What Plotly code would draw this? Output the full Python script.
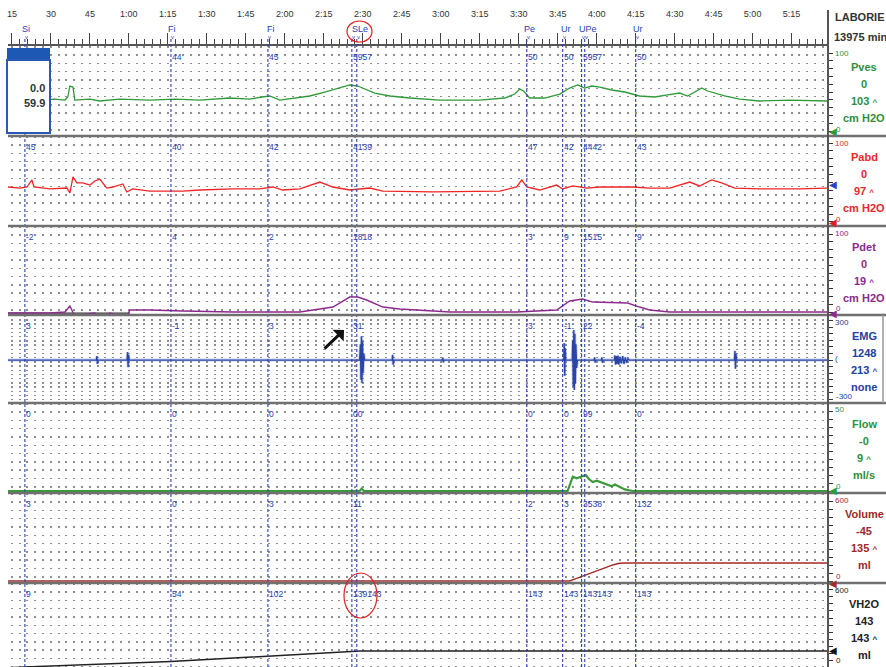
import plotly.graph_objects as go

# ---------------- data ----------------
time_tick_vals = [15, 30, 45, 60, 75, 90, 105, 120, 135, 150, 165, 180, 195, 210, 225, 240, 255, 270, 285, 300, 315]
time_tick_text = ["15", "30", "45", "1:00", "1:15", "1:30", "1:45", "2:00", "2:15", "2:30", "2:45",
                  "3:00", "3:15", "3:30", "3:45", "4:00", "4:15", "4:30", "4:45", "5:00", "5:15"]

event_names = ["Si", "Fi", "Fi", "SLe", "Pe", "Ur", "UPe", "Ur"]
event_name_t = [20.4, 76.5, 114.6, 148.8, 214.2, 228.1, 236.5, 255.8]
event_line_t = [20.0, 76.2, 113.5, 145.8, 147.7, 213.1, 226.9, 234.2, 235.4, 255.0]

pves_marks = ["", "44", "45", "59", "57", "50", "50", "59", "57", "50"]
pabd_marks = ["45", "40", "42", "41", "39", "47", "42", "44", "42", "43"]
pdet_marks = ["-2", "4", "2", "18", "18", "3", "9", "15", "15", "9"]
emg_marks = ["3", "-1", "3", "3", "1", "3", "-1", "2", "2", "-4"]
flow_marks = ["0", "0", "0", "0", "0", "0", "0", "9", "9", "0"]
vol_marks = ["3", "0", "3", "1", "1", "2", "3", "35", "38", "132"]
vh2o_marks = ["9", "54", "102", "139", "143", "143", "143", "143", "143", "143"]

pves_t = [13.5, 21.9, 31.5, 35.4, 36.5, 37.3, 38.5, 39.2, 45.0, 48.8, 56.5, 68.1, 77.7, 87.3, 98.8,
          106.5, 111.2, 114.2, 118.1, 123.8, 129.6, 135.4, 141.2, 145.0, 148.1, 150.8, 154.6, 160.4,
          168.1, 179.6, 195.0, 204.6, 208.5, 210.4, 211.9, 214.2, 220.0, 225.8, 229.6, 232.7, 235.4,
          238.1, 241.2, 245.8, 250.8, 256.5, 262.3, 267.3, 271.9, 275.0, 277.7, 280.4, 282.7, 285.4,
          289.2, 295.0, 302.7, 314.2, 328.8]
pves_v = [39.7, 38.5, 41.0, 39.7, 43.6, 57.7, 56.4, 39.7, 41.0, 38.5, 41.0, 39.7, 41.0, 39.7, 42.3,
          41.0, 43.6, 44.9, 39.7, 42.3, 44.9, 50.0, 55.1, 59.0, 57.7, 53.8, 48.7, 44.9,
          42.3, 39.7, 39.7, 42.3, 47.4, 53.8, 51.3, 42.3, 42.3, 47.4, 55.1, 59.0, 55.1,
          57.7, 56.4, 52.6, 50.0, 44.9, 43.6, 46.2, 48.7, 44.9, 50.0, 55.1, 51.3, 48.7,
          44.9, 41.0, 38.5, 39.7, 38.5]

pabd_t = [13.5, 18.1, 20.8, 22.7, 23.5, 29.6, 36.2, 37.3, 38.5, 40.0, 42.3, 45.0, 46.9, 48.8, 51.5,
          53.8, 57.7, 59.2, 61.5, 68.1, 74.6, 80.8, 87.3, 100.0, 110.4, 115.4, 119.2, 125.8, 133.5,
          138.5, 145.0, 152.7, 157.7, 176.9, 202.7, 209.2, 211.2, 213.1, 218.1, 224.6, 226.9, 230.8,
          236.2, 241.2, 253.8, 260.4, 268.1, 275.8, 279.6, 284.2, 288.1, 293.1, 302.7, 318.1, 328.8]
pabd_v = [44.3, 43.0, 44.3, 53.2, 44.3, 41.8, 43.0, 36.7, 57.0, 49.4, 49.4, 46.8, 51.9, 54.4, 43.0,
          44.3, 48.1, 38.0, 41.8, 39.2, 39.2, 39.2, 40.5, 41.8, 41.8, 44.3, 40.5, 41.8, 50.6,
          44.3, 40.5, 43.0, 39.2, 38.0, 39.2, 44.3, 53.2, 44.3, 40.5, 46.8, 41.8, 45.6,
          43.0, 44.3, 44.3, 43.0, 43.0, 50.6, 45.6, 53.2, 49.4, 43.0, 41.8, 41.8, 43.0]

pdet_t = [13.5, 29.6, 35.4, 37.3, 38.8, 40.0, 43.8, 46.9, 48.8, 50.8, 52.7, 56.5, 59.2, 60.4, 68.1,
          80.8, 100.0, 125.8, 138.5, 145.0, 148.1, 151.5, 157.7, 164.2, 183.5, 209.2, 224.6, 229.6,
          234.6, 238.5, 247.7, 251.9, 256.5, 260.4, 268.1, 328.8]
pdet_v = [-1.3, -1.3, 0.0, 7.7, -2.6, -6.4, -2.6, -1.3, -9.0, -5.0, -1.3, -5.0, -6.4, 2.6, 2.6,
          1.3, 0.0, 0.0, 6.4, 19.2, 19.2, 15.4, 6.4, 3.8, 0.0, 0.0, 2.6, 14.1,
          16.7, 12.8, 11.5, 11.5, 6.4, 2.6, 0.0, 0.0]
pdet_base_t = [13.5, 60.4]
pdet_base_v = [-1.3, -1.3]

emg_t = [13.5,
         47.5, 47.7, 47.9, 48.1,
         59.3, 59.5, 59.7, 59.9, 60.1,
         148.8, 149.1, 149.3, 149.5, 149.7, 149.9, 150.1, 150.4, 150.7,
         161.3, 161.5, 161.7, 161.9,
         180.6, 180.8, 181.0, 181.2,
         227.3, 227.5, 227.7, 227.9, 228.1,
         230.6, 230.8, 231.0, 231.2, 231.4, 231.6, 231.8, 232.0, 232.3, 232.6,
         239.0, 239.2, 239.4, 239.6,
         241.8, 242.0, 242.2, 242.4,
         246.8, 247.0, 247.3, 247.6, 247.9, 248.2, 248.5, 249.0, 249.5, 250.0, 250.5, 251.0, 251.5, 252.0, 252.5,
         293.0, 293.2, 293.4, 293.6, 293.8,
         328.8]
emg_v = [0,
         0, 30, -30, 0,
         0, 60, -55, 40, 0,
         0, 120, -150, 180, -175, 140, -100, 50, 0,
         0, 40, -35, 0,
         0, 18, -18, 0,
         0, 130, -120, 90, 0,
         0, 150, -200, 228, -228, 200, -180, 120, -60, 0,
         0, 20, -20, 0,
         0, 20, -20, 0,
         0, 35, -35, 30, -30, 35, -35, 25, -25, 30, -30, 20, -20, 10, 0,
         0, 70, -65, 50, 0,
         0]

flow_t = [13.5, 148.8, 149.6, 150.4, 228.8, 229.6, 230.8, 232.3, 234.2, 235.8, 237.0, 238.5, 240.0,
          242.3, 244.0, 245.8, 247.0, 248.5, 250.8, 253.8, 328.8]
flow_v = [0, 0, 1.5, 0, 0, 4, 9, 8, 9, 10, 7.5, 5.6, 6.5, 5, 4, 3, 4, 3, 1, 0, 0]

vol_t = [13.5, 229.6, 232.0, 235.0, 238.0, 241.0, 244.0, 246.5, 248.8, 252.0, 328.8]
vol_v = [0, 0, 18, 40, 63, 85, 108, 123, 133, 135, 135]

vh2o_t = [13.5, 20.0, 76.2, 113.5, 147.7, 149.0, 328.8]
vh2o_v = [3, 9, 54, 102, 140, 143, 143]

# ---------------- geometry helpers ----------------
W, H = 886, 667
ML, MR, MT, MB = 8, 58, 46, 0
PW = W - ML - MR
PH = H - MT - MB
T0, T1 = 13.5, 329.0


def fx(px):
    return (px - ML) / PW


def fy(py):
    return (H - MB - py) / PH


FN = "Liberation Sans Narrow, Arial Narrow, Liberation Sans, Arial, sans-serif"
EV_BLUE = "#2a40b0"
GRIDC = "#8e8e8e"

bounds = [46, 136, 226, 315, 403, 493, 583, 667]
panels = [
    dict(rng=[-6.4, 109.0], dtick=10, dash="1.5px,6.8px"),
    dict(rng=[-5.1, 108.9], dtick=10, dash="1.5px,6.8px"),
    dict(rng=[-3.8, 110.3], dtick=10, dash="1.5px,6.8px"),
    dict(rng=[-326, 342], dtick=50, dash="1.4px,2.8px"),
    dict(rng=[-1.25, 55], dtick=5, dash="1.5px,6.8px"),
    dict(rng=[-15, 662], dtick=60, dash="1.5px,6.8px"),
    dict(rng=[8.4, 714], dtick=60, dash="1.5px,6.8px"),
]

fig = go.Figure()


def add_line(t, v, i, color, width):
    fig.add_trace(go.Scatter(x=t, y=v, mode="lines", xaxis="x" if i == 1 else f"x{i}",
                             yaxis="y" if i == 1 else f"y{i}", line=dict(color=color, width=width),
                             hoverinfo="skip", showlegend=False))


add_line(pves_t, pves_v, 1, "#2f9a3a", 1.3)
add_line(pabd_t, pabd_v, 2, "#f02424", 1.3)
add_line(pdet_base_t, pdet_base_v, 3, "#333333", 1.3)
add_line(pdet_t, pdet_v, 3, "#8e2a8e", 1.4)
add_line(emg_t, emg_v, 4, "rgba(90,115,205,0.35)", 3)
add_line(emg_t, emg_v, 4, "#2a44a8", 1.3)
add_line(flow_t, flow_v, 5, "#3a9a3a", 2.2)
add_line(vol_t, vol_v, 6, "#a52a2a", 1.5)
add_line(vh2o_t, vh2o_v, 7, "#222222", 1.5)

layout = dict(width=W, height=H, margin=dict(l=ML, r=MR, t=MT, b=MB),
              paper_bgcolor="white", plot_bgcolor="white", showlegend=False)

for i, p in enumerate(panels, start=1):
    xa = dict(domain=[0, 1], range=[T0, T1], anchor="y" if i == 1 else f"y{i}",
              tickmode="array", tickvals=time_tick_vals, ticktext=time_tick_text,
              showgrid=True, gridcolor=GRIDC, griddash=p["dash"], gridwidth=1.5,
              zeroline=False, showline=False, showticklabels=False, ticks="",
              minor=dict(dtick=3, tick0=15, showgrid=True, gridcolor=GRIDC,
                         griddash=p["dash"], gridwidth=1.5))
    if i == 1:
        xa.update(side="top", showticklabels=True, ticks="outside", ticklen=11, tickwidth=1.2,
                  tickcolor="#444", showline=True, linecolor="#555", linewidth=2,
                  tickfont=dict(family=FN, size=9, color="#333"), ticklabelstandoff=12)
        xa["minor"].update(ticks="outside", ticklen=5, tickwidth=1, tickcolor="#444")
    ya = dict(domain=[fy(bounds[i]), fy(bounds[i - 1])], range=p["rng"],
              anchor="x" if i == 1 else f"x{i}", side="right", showgrid=False, zeroline=False,
              showticklabels=False, ticks="outside", ticklen=4, tickcolor="#333",
              tick0=0, dtick=p["dtick"], showline=False)
    layout["xaxis" if i == 1 else f"xaxis{i}"] = xa
    layout["yaxis" if i == 1 else f"yaxis{i}"] = ya

fig.update_layout(**layout)

shapes = []
# event dashed lines
for t in event_line_t:
    shapes.append(dict(type="line", xref="x", yref="paper", x0=t, x1=t, y0=0, y1=fy(38),
                       line=dict(color=EV_BLUE, width=1.1, dash="3px,2px")))
# separators
for b in bounds[1:-1]:
    shapes.append(dict(type="line", xref="paper", yref="paper", x0=0, x1=fx(W), y0=fy(b), y1=fy(b),
                       line=dict(color="#707070", width=2.5)))
# right axis line
shapes.append(dict(type="line", xref="paper", yref="paper", x0=fx(828), x1=fx(828), y0=0, y1=fy(10),
                   line=dict(color="#555", width=2)))
# EMG label box right border
shapes.append(dict(type="line", xref="paper", yref="paper", x0=fx(883), x1=fx(883), y0=fy(403), y1=fy(315),
                   line=dict(color="#999", width=1.5)))
# overlay box at top-left
shapes.append(dict(type="rect", xref="paper", yref="paper", x0=fx(7), x1=fx(50), y0=fy(60), y1=fy(48),
                   fillcolor="#1d58b5", line=dict(width=0), layer="above"))
shapes.append(dict(type="rect", xref="paper", yref="paper", x0=fx(7), x1=fx(50), y0=fy(133), y1=fy(60),
                   fillcolor="white", line=dict(color="#2a5ab8", width=2), layer="above"))
# red circles
shapes.append(dict(type="circle", xref="paper", yref="paper", x0=fx(347), x1=fx(372), y0=fy(42), y1=fy(21),
                   line=dict(color="#e02020", width=1.2)))
shapes.append(dict(type="circle", xref="paper", yref="paper", x0=fx(344), x1=fx(377), y0=fy(618), y1=fy(573),
                   line=dict(color="#e02020", width=1.2)))
fig.update_layout(shapes=shapes)

ann = []


def txt(px, py, s, color, size, bold=False, anchor="center", family=FN):
    ann.append(dict(xref="paper", yref="paper", x=fx(px), y=fy(py), text=f"<b>{s}</b>" if bold else s,
                    showarrow=False, xanchor=anchor, yanchor="middle",
                    font=dict(family=family, size=size, color=color)))


# header right
txt(860, 17, "LABORIE", "#333", 11, True)
txt(860, 37, "13975 min", "#333", 11, True)

# panel names / values
caret = "<span style='font-size:8px'>^</span>"
right_info = [
    (["Pves", "0", "103 " + caret, "cm H2O"], "#2e9040"),
    (["Pabd", "0", "97 " + caret, "cm H2O"], "#e8282a"),
    (["Pdet", "0", "19 " + caret, "cm H2O"], "#8b2a8b"),
    (["EMG", "1248", "213 " + caret, "none"], "#2540a0"),
    (["Flow", "-0", "9 " + caret, "ml/s"], "#2e9040"),
    (["Volume", "-45", "135 " + caret, "ml"], "#a02828"),
    (["VH2O", "143", "143 " + caret, "ml"], "#222"),
]
for k, (lines, col) in enumerate(right_info):
    top = bounds[k]
    for j, s in enumerate(lines):
        txt(864, top + 21 + 17 * j, s, col, 11, True)

# scale labels
scale_info = [
    ("100", "0", "#2e9040"), ("100", "0", "#e8282a"), ("100", "0", "#8b2a8b"),
    ("300", "-300", "#2540a0"), ("50", "0", "#2e9040"), ("600", "0", "#a02828"), ("600", "0", "#222"),
]
for k, (hi, lo, col) in enumerate(scale_info):
    top, bot = bounds[k], bounds[k + 1]
    txt(833, top + 7, hi, col, 8, anchor="left")
    txt(834, bot - 7, lo, col, 8, anchor="left")
txt(833, 358, "(", "#2540a0", 8, anchor="left")

# level triangles
tri = [(131, "#2f9a3a"), (184, "#2a44c0"), (222, "#e02020"), (313, "#8e2a8e"), (490, "#2f9a3a"),
       (583, "#a52a2a"), (650, "#111")]
for py, col in tri:
    txt(827, py, "◀", col, 10, anchor="left", family="DejaVu Sans")

# event names in header
for name, t in zip(event_names, event_name_t):
    ann.append(dict(xref="x", yref="paper", x=t, y=fy(29), text=name, showarrow=False,
                    xanchor="center", yanchor="middle", font=dict(family=FN, size=9, color=EV_BLUE)))
for t in event_line_t:
    ann.append(dict(xref="x", yref="paper", x=t, y=fy(37), text="v", showarrow=False, xshift=2,
                    xanchor="center", yanchor="middle", font=dict(family=FN, size=6, color=EV_BLUE)))

# event marks per panel (close double marks are joined into one label)
marks = [pves_marks, pabd_marks, pdet_marks, emg_marks, flow_marks, vol_marks, vh2o_marks]
for k, mk in enumerate(marks):
    py = bounds[k] + 11
    groups = []
    for t, s in zip(event_line_t, mk):
        if groups and t - groups[-1][0] < 2.0:
            groups[-1][1] += s
        else:
            groups.append([t, s])
    for t, s in groups:
        if s:
            ann.append(dict(xref="x", yref="paper", x=t, y=fy(py), text=s, showarrow=False,
                            xanchor="left", xshift=-1, yanchor="middle",
                            font=dict(family=FN, size=8.5, color=EV_BLUE)))

# overlay box values
txt(47, 88, "0.0", "#333", 11, True, anchor="right")
txt(47, 103, "59.9", "#333", 11, True, anchor="right")

# hand-drawn arrow
ann.append(dict(xref="paper", yref="paper", x=fx(344), y=fy(330), ax=-21, ay=20, axref="pixel", ayref="pixel",
                showarrow=True, arrowhead=1, arrowsize=0.9, arrowwidth=3, arrowcolor="#111", text=""))

fig.update_layout(annotations=ann)
fig.write_html("out.html", config={"displayModeBar": False},
               post_script="document.body.style.margin='0';document.body.style.overflow='hidden';")
